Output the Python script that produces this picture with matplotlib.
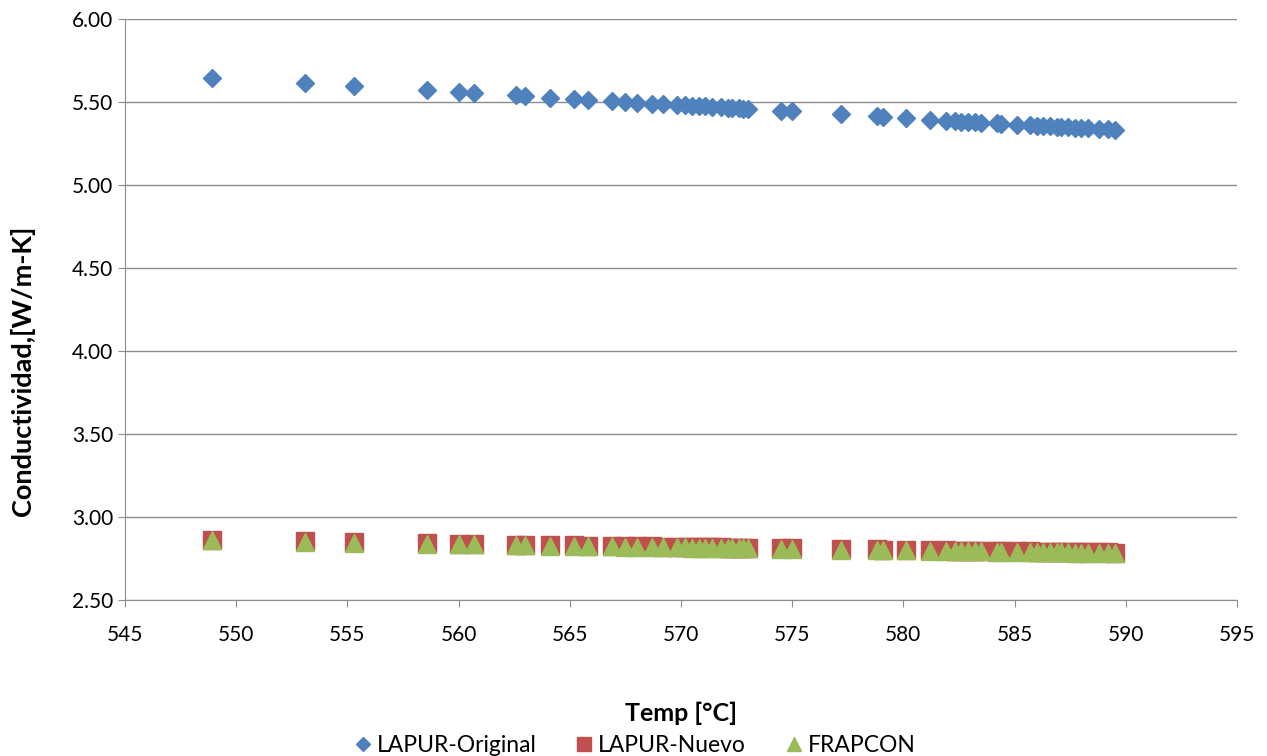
import matplotlib.pyplot as plt
from matplotlib.ticker import FormatStrFormatter

plt.rcParams['font.family'] = ['Lato', 'DejaVu Sans']

temp = [548.9, 553.1, 555.3, 558.6, 560.0, 560.7, 562.6, 563.0, 564.1, 565.2,
        565.8, 566.9, 567.5, 568.0, 568.7, 569.2, 569.8, 570.2, 570.5, 570.8,
        571.1, 571.4, 571.8, 572.1, 572.3, 572.6, 572.8, 573.0, 574.5, 575.0,
        577.2, 578.8, 579.1, 580.1, 581.2, 581.9, 582.3, 582.6, 582.9, 583.2,
        583.5, 584.2, 584.4, 585.1, 585.7, 586.0, 586.3, 586.6, 586.9, 587.1,
        587.4, 587.7, 588.0, 588.3, 588.8, 589.2, 589.5]

lapur_original = [5.645, 5.615, 5.595, 5.570, 5.560, 5.555, 5.540, 5.535, 5.525, 5.515,
                  5.510, 5.505, 5.500, 5.495, 5.490, 5.487, 5.483, 5.480, 5.478, 5.475,
                  5.473, 5.470, 5.468, 5.465, 5.463, 5.461, 5.460, 5.458, 5.447, 5.443,
                  5.425, 5.413, 5.410, 5.402, 5.393, 5.388, 5.385, 5.382, 5.380, 5.378,
                  5.376, 5.371, 5.369, 5.364, 5.360, 5.357, 5.355, 5.353, 5.351, 5.349,
                  5.347, 5.345, 5.343, 5.341, 5.337, 5.335, 5.332]

lapur_nuevo = [2.862, 2.853, 2.848, 2.842, 2.839, 2.838, 2.834, 2.833, 2.831, 2.829,
               2.828, 2.826, 2.825, 2.824, 2.823, 2.822, 2.821, 2.820, 2.819, 2.819,
               2.818, 2.818, 2.817, 2.816, 2.816, 2.815, 2.815, 2.815, 2.812, 2.811,
               2.807, 2.805, 2.804, 2.802, 2.800, 2.799, 2.798, 2.798, 2.797, 2.797,
               2.796, 2.795, 2.795, 2.794, 2.793, 2.792, 2.792, 2.791, 2.791, 2.790,
               2.790, 2.789, 2.789, 2.788, 2.787, 2.787, 2.786]

frapcon = [2.859, 2.850, 2.845, 2.839, 2.836, 2.835, 2.831, 2.830, 2.828, 2.826,
           2.825, 2.823, 2.822, 2.821, 2.820, 2.819, 2.818, 2.817, 2.816, 2.816,
           2.815, 2.815, 2.814, 2.813, 2.813, 2.812, 2.812, 2.812, 2.809, 2.808,
           2.804, 2.802, 2.801, 2.799, 2.797, 2.796, 2.795, 2.795, 2.794, 2.794,
           2.793, 2.792, 2.792, 2.791, 2.790, 2.789, 2.789, 2.788, 2.788, 2.787,
           2.787, 2.786, 2.786, 2.785, 2.784, 2.784, 2.783]

fig = plt.figure(figsize=(12.67, 7.56), dpi=100)
ax = fig.add_axes([0.0987, 0.2063, 0.8776, 0.7686])

ax.plot(temp, lapur_original, 'D', color='#4F81BD', markersize=9.5, label='LAPUR-Original')
ax.plot(temp, lapur_nuevo, 's', color='#C0504D', markersize=13, label='LAPUR-Nuevo')
ax.plot(temp, frapcon, '^', color='#9BBB59', markersize=13, label='FRAPCON')

ax.set_xlim(545, 595)
ax.set_ylim(2.5, 6.0)
ax.set_xticks(range(545, 600, 5))
ax.set_yticks([2.5, 3.0, 3.5, 4.0, 4.5, 5.0, 5.5, 6.0])
ax.yaxis.set_major_formatter(FormatStrFormatter('%.2f'))
ax.grid(axis='y', color='#8c8c8c', linewidth=1)
ax.set_axisbelow(True)
for s in ['top', 'right']:
    ax.spines[s].set_visible(False)
for s in ['left', 'bottom']:
    ax.spines[s].set_color('#8c8c8c')
ax.tick_params(colors='#8c8c8c', labelcolor='black', labelsize=15, length=5, direction='out')
ax.tick_params(axis='x', pad=13)

ax.set_xlabel('Temp [°C]', fontsize=18, fontweight='bold', labelpad=41)
# y label sits a bit below the axes centre in the original
fig.text(0.018, 0.51, 'Conductividad,[W/m-K]', rotation=90, ha='center', va='center',
         fontsize=19.5, fontweight='bold')

fig.legend(loc='lower center', ncol=3, frameon=False, fontsize=16.5, bbox_to_anchor=(0.5, -0.027),
           handletextpad=0.1, columnspacing=1.6, handlelength=1.0,
           markerscale=0.75)

fig.savefig('out.png')
